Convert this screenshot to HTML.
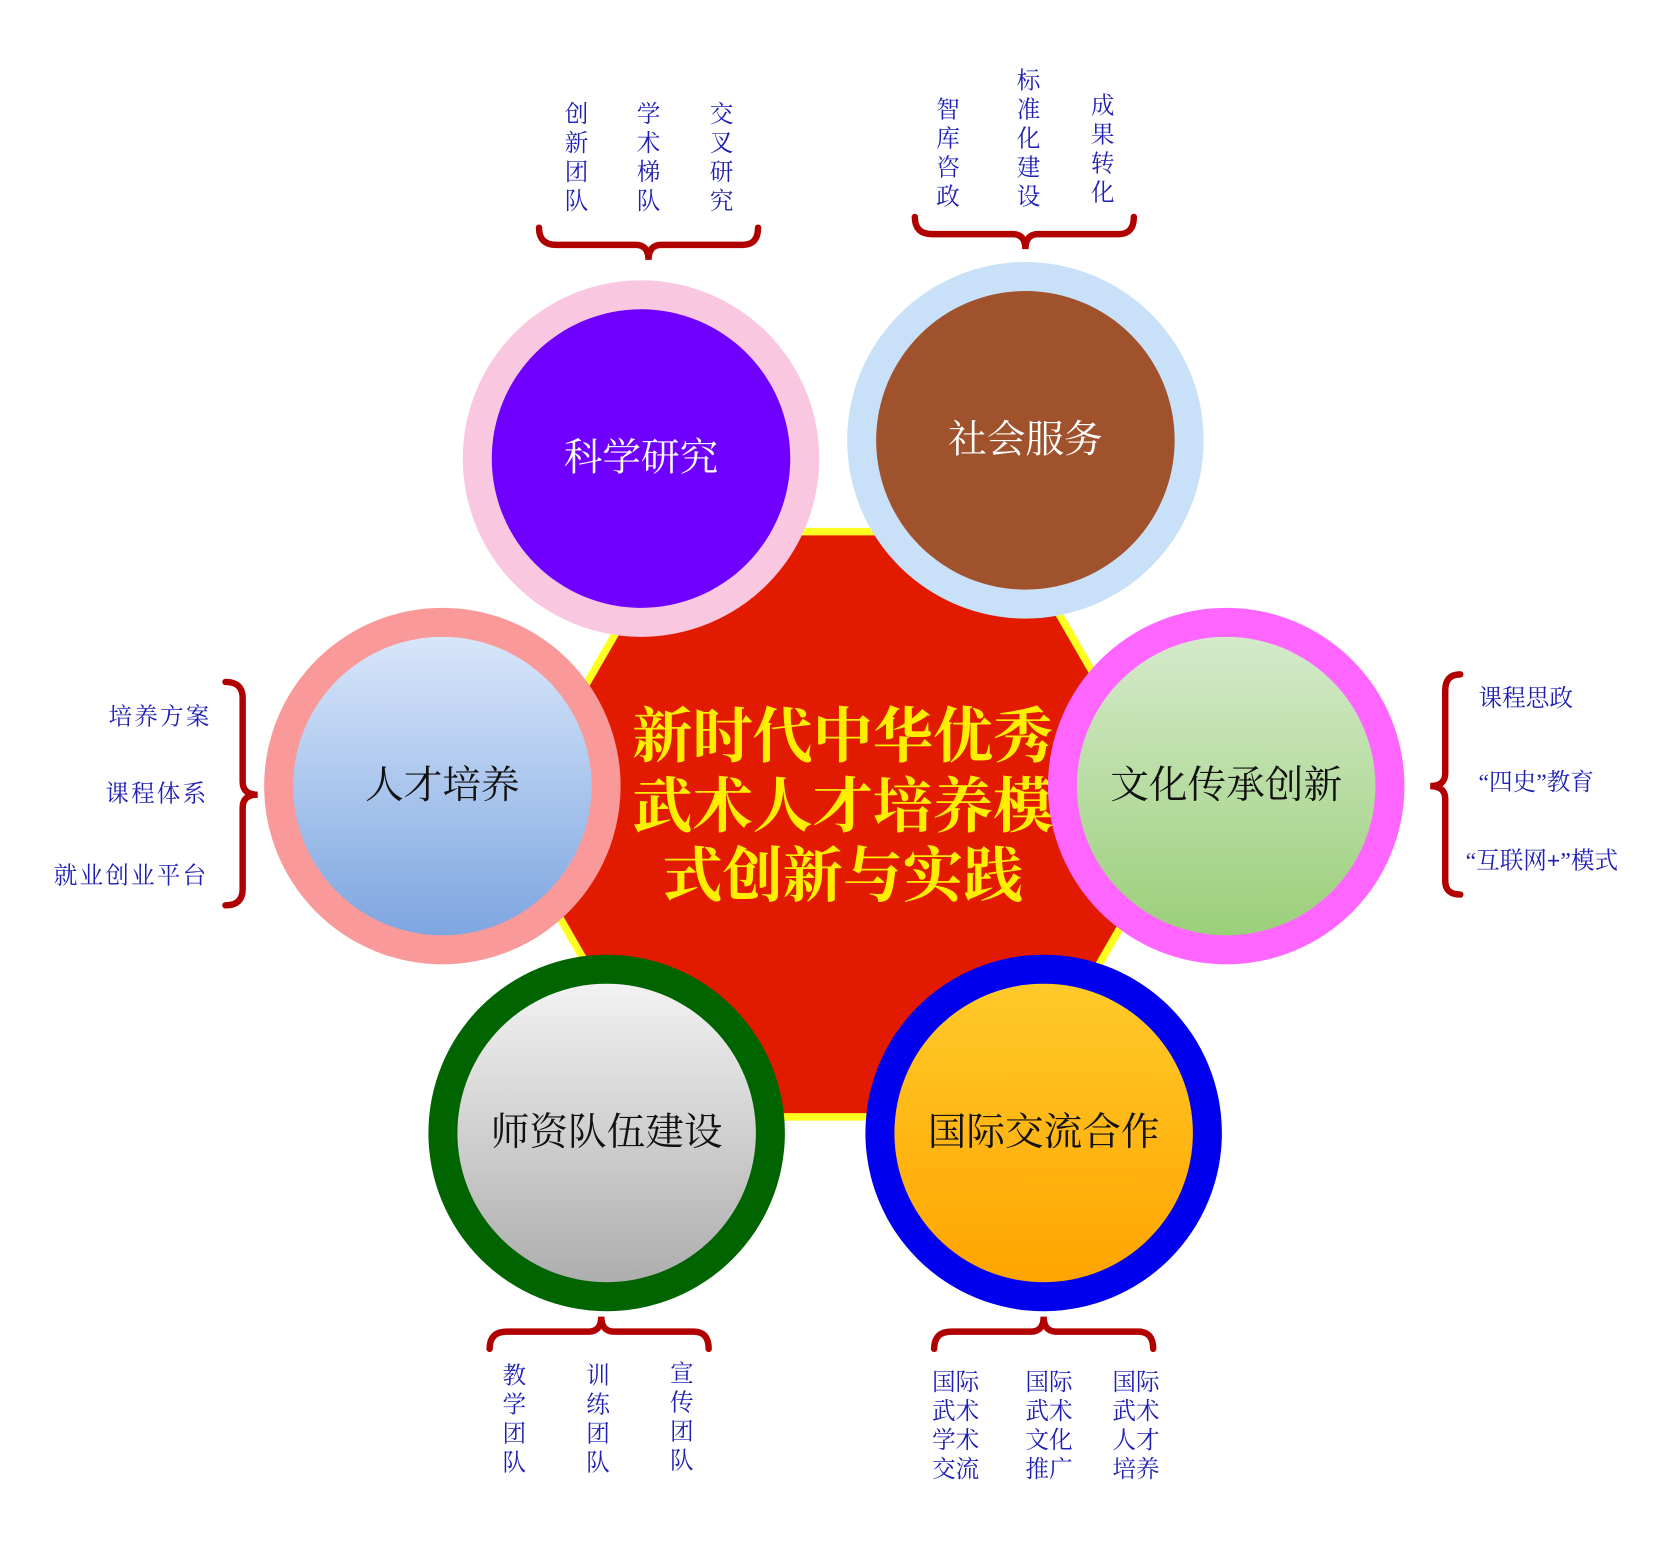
<!DOCTYPE html>
<html><head><meta charset="utf-8"><style>
html,body{margin:0;padding:0;background:#fff;}
svg{display:block;}
text{font-family:"Liberation Serif","Noto Serif CJK SC",serif;}
</style></head><body>
<svg width="1675" height="1555" viewBox="0 0 1560 1448" preserveAspectRatio="none" xmlns="http://www.w3.org/2000/svg">
<defs>
<linearGradient id="gb" x1="0" y1="0" x2="0" y2="1"><stop offset="0" stop-color="#d8e6fa"/><stop offset="1" stop-color="#7ea6e0"/></linearGradient>
<linearGradient id="gg" x1="0" y1="0" x2="0" y2="1"><stop offset="0" stop-color="#d4eacb"/><stop offset="1" stop-color="#9ccf7a"/></linearGradient>
<linearGradient id="gs" x1="0" y1="0" x2="0" y2="1"><stop offset="0" stop-color="#f2f2f2"/><stop offset="1" stop-color="#aeaeae"/></linearGradient>
<linearGradient id="go" x1="0" y1="0" x2="0" y2="1"><stop offset="0" stop-color="#ffca2a"/><stop offset="1" stop-color="#ffa400"/></linearGradient>
</defs>
<polygon points="628,495 942,495 1099,767 942,1040 628,1040 471,767" fill="#e21a00" stroke="#ffff20" stroke-width="7"/>
<g fill="#ffee00" font-weight="bold" font-size="56" text-anchor="middle">
<text x="785" y="705">新时代中华优秀</text>
<text x="785" y="770">武术人才培养模</text>
<text x="785" y="835">式创新与实践</text>
</g>
<circle cx="597" cy="427" r="166" fill="#f9c8e0"/><circle cx="597" cy="427" r="139" fill="#6f00ff"/>
<circle cx="955" cy="410" r="166" fill="#c9e1f8"/><circle cx="955" cy="410" r="139" fill="#a0522d"/>
<circle cx="412" cy="732" r="166" fill="#f99999"/><circle cx="412" cy="732" r="139" fill="url(#gb)"/>
<circle cx="1142" cy="732" r="166" fill="#ff66ff"/><circle cx="1142" cy="732" r="139" fill="url(#gg)"/>
<circle cx="565" cy="1055" r="166" fill="#006400"/><circle cx="565" cy="1055" r="139" fill="url(#gs)"/>
<circle cx="972" cy="1055" r="166" fill="#0000ee"/><circle cx="972" cy="1055" r="139" fill="url(#go)"/>
<g font-size="36" text-anchor="middle" dominant-baseline="central">
<text x="597" y="427" fill="#fff">科学研究</text>
<text x="955" y="410" fill="#fff">社会服务</text>
<text x="412" y="732" fill="#111">人才培养</text>
<text x="1142" y="732" fill="#111">文化传承创新</text>
<text x="565" y="1055" fill="#111">师资队伍建设</text>
<text x="972" y="1055" fill="#111">国际交流合作</text>
</g>
<g fill="none" stroke="#b00000" stroke-width="6" stroke-linecap="round">
<path d="M502,212 Q502,228 518,228 L592,228 Q604,228 604,242 Q604,228 616,228 L692,228 Q706,228 706,212"/>
<path d="M852,202 Q852,218 868,218 L943,218 Q955,218 955,232 Q955,218 967,218 L1042,218 Q1056,218 1056,202"/>
<path d="M210,635 Q226,635 226,650 L226,728 Q226,740 240,740 Q226,740 226,752 L226,828 Q226,843 210,843"/>
<path d="M1360,628 Q1346,628 1346,643 L1346,720 Q1346,732 1332,732 Q1346,732 1346,744 L1346,820 Q1346,833 1360,833"/>
<path d="M456,1256 Q456,1240 472,1240 L548,1240 Q560,1240 560,1226 Q560,1240 572,1240 L646,1240 Q660,1240 660,1256"/>
<path d="M870,1256 Q870,1240 886,1240 L960,1240 Q972,1240 972,1226 Q972,1240 984,1240 L1060,1240 Q1074,1240 1074,1256"/>
</g>
<g fill="#1e1eb4" font-size="22" text-anchor="middle" dominant-baseline="central">
<text x="537" y="107">创</text><text x="537" y="134">新</text><text x="537" y="161">团</text><text x="537" y="188">队</text>
<text x="604" y="107">学</text><text x="604" y="134">术</text><text x="604" y="161">梯</text><text x="604" y="188">队</text>
<text x="672" y="107">交</text><text x="672" y="134">叉</text><text x="672" y="161">研</text><text x="672" y="188">究</text>
<text x="883" y="103">智</text><text x="883" y="130">库</text><text x="883" y="157">咨</text><text x="883" y="184">政</text>
<text x="958" y="76">标</text><text x="958" y="103">准</text><text x="958" y="130">化</text><text x="958" y="157">建</text><text x="958" y="184">设</text>
<text x="1027" y="99">成</text><text x="1027" y="126">果</text><text x="1027" y="153">转</text><text x="1027" y="180">化</text>
<text x="479" y="1282">教</text><text x="479" y="1309">学</text><text x="479" y="1336">团</text><text x="479" y="1363">队</text>
<text x="557" y="1282">训</text><text x="557" y="1309">练</text><text x="557" y="1336">团</text><text x="557" y="1363">队</text>
<text x="635" y="1280">宣</text><text x="635" y="1307">传</text><text x="635" y="1334">团</text><text x="635" y="1361">队</text>
<text x="890" y="1288">国际</text><text x="890" y="1315">武术</text><text x="890" y="1342">学术</text><text x="890" y="1369">交流</text>
<text x="977" y="1288">国际</text><text x="977" y="1315">武术</text><text x="977" y="1342">文化</text><text x="977" y="1369">推广</text>
<text x="1058" y="1288">国际</text><text x="1058" y="1315">武术</text><text x="1058" y="1342">人才</text><text x="1058" y="1369">培养</text>
</g>
<g fill="#1e1eb4" font-size="22" dominant-baseline="central">
<text x="197" y="668" text-anchor="end" letter-spacing="2">培养方案</text>
<text x="194" y="740" text-anchor="end" letter-spacing="2">课程体系</text>
<text x="194" y="816" text-anchor="end" letter-spacing="2">就业创业平台</text>
<text x="1377" y="651">课程思政</text>
<text x="1377" y="729">“四史”教育</text>
<text x="1365" y="802">“互联网<tspan font-weight="bold">+</tspan>”模式</text>
</g>
</svg>
</body></html>
